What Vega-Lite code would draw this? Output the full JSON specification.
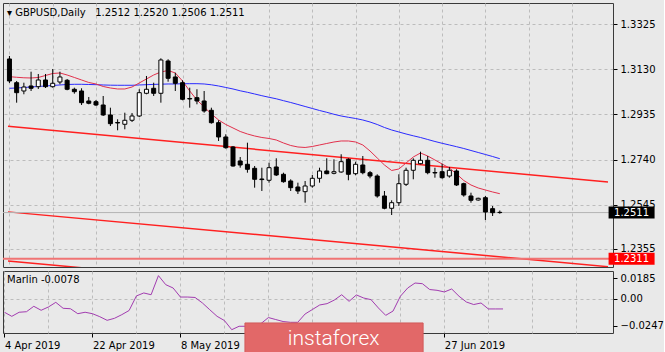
{
  "$schema": "https://vega.github.io/schema/vega-lite/v6.json",
  "background": "#e9e9e9",
  "padding": {"left": 2, "top": 2, "right": 0, "bottom": 0},
  "config": {
    "font": "DejaVu Sans",
    "view": {"stroke": "#3a3a3a", "strokeWidth": 1, "fill": "#e9e9e9"},
    "axis": {"labelFont": "DejaVu Sans", "labelFontSize": 10, "labelColor": "#000000", "tickColor": "#000000", "gridColor": "#bcbcbc", "gridDash": [3, 3], "domain": false}
  },
  "datasets": {
    "bars": [
      {"bar":0,"date":"2019-04-04","open":1.3175,"high":1.3188,"low":1.30712,"close":1.30799,"ma_fast":1.30985,"ma_slow":1.30483,"marlin":-0.0123},
      {"bar":1,"date":"2019-04-05","open":1.30725,"high":1.30799,"low":1.29861,"close":1.30293,"ma_fast":1.30959,"ma_slow":1.30496,"marlin":-0.016},
      {"bar":2,"date":"2019-04-08","open":1.30366,"high":1.30725,"low":1.30224,"close":1.30539,"ma_fast":1.30937,"ma_slow":1.30518,"marlin":-0.0123},
      {"bar":3,"date":"2019-04-09","open":1.30583,"high":1.31201,"low":1.30366,"close":1.30483,"ma_fast":1.30928,"ma_slow":1.30539,"marlin":-0.0118},
      {"bar":4,"date":"2019-04-10","open":1.30552,"high":1.31101,"low":1.30453,"close":1.30842,"ma_fast":1.3095,"ma_slow":1.30561,"marlin":-0.0069},
      {"bar":5,"date":"2019-04-11","open":1.30842,"high":1.31101,"low":1.30496,"close":1.30552,"ma_fast":1.31036,"ma_slow":1.30583,"marlin":-0.0105},
      {"bar":6,"date":"2019-04-12","open":1.30552,"high":1.31317,"low":1.30509,"close":1.30699,"ma_fast":1.31123,"ma_slow":1.30604,"marlin":-0.0075},
      {"bar":7,"date":"2019-04-15","open":1.30755,"high":1.31201,"low":1.30656,"close":1.30972,"ma_fast":1.31145,"ma_slow":1.30626,"marlin":-0.0033},
      {"bar":8,"date":"2019-04-16","open":1.30829,"high":1.30885,"low":1.30397,"close":1.3044,"ma_fast":1.31058,"ma_slow":1.30647,"marlin":-0.0087},
      {"bar":9,"date":"2019-04-17","open":1.3044,"high":1.30509,"low":1.3025,"close":1.30336,"ma_fast":1.3095,"ma_slow":1.30656,"marlin":-0.0091},
      {"bar":10,"date":"2019-04-18","open":1.30366,"high":1.30483,"low":1.29761,"close":1.29861,"ma_fast":1.30842,"ma_slow":1.30656,"marlin":-0.0136},
      {"bar":11,"date":"2019-04-19","open":1.29934,"high":1.30107,"low":1.29791,"close":1.29835,"ma_fast":1.30734,"ma_slow":1.30647,"marlin":-0.0123},
      {"bar":12,"date":"2019-04-22","open":1.29904,"high":1.29977,"low":1.29718,"close":1.29761,"ma_fast":1.30669,"ma_slow":1.30639,"marlin":-0.0136},
      {"bar":13,"date":"2019-04-23","open":1.29761,"high":1.3015,"low":1.29285,"close":1.29329,"ma_fast":1.30561,"ma_slow":1.30626,"marlin":-0.0163},
      {"bar":14,"date":"2019-04-24","open":1.29329,"high":1.29644,"low":1.28853,"close":1.28953,"ma_fast":1.30496,"ma_slow":1.30617,"marlin":-0.0196},
      {"bar":15,"date":"2019-04-25","open":1.29004,"high":1.29143,"low":1.28667,"close":1.28983,"ma_fast":1.30453,"ma_slow":1.30613,"marlin":-0.0178},
      {"bar":16,"date":"2019-04-26","open":1.28927,"high":1.29428,"low":1.2871,"close":1.291,"ma_fast":1.30453,"ma_slow":1.30613,"marlin":-0.0145},
      {"bar":17,"date":"2019-04-29","open":1.291,"high":1.29415,"low":1.29026,"close":1.29285,"ma_fast":1.30539,"ma_slow":1.30613,"marlin":-0.0107},
      {"bar":18,"date":"2019-04-30","open":1.29285,"high":1.3044,"low":1.29242,"close":1.30293,"ma_fast":1.30712,"ma_slow":1.30626,"marlin":0.0025},
      {"bar":19,"date":"2019-05-01","open":1.30267,"high":1.31015,"low":1.30224,"close":1.3044,"ma_fast":1.30885,"ma_slow":1.30639,"marlin":0.0052},
      {"bar":20,"date":"2019-05-02","open":1.30483,"high":1.30725,"low":1.3015,"close":1.30267,"ma_fast":1.31058,"ma_slow":1.30652,"marlin":0.0036},
      {"bar":21,"date":"2019-05-03","open":1.30267,"high":1.3178,"low":1.29861,"close":1.31707,"ma_fast":1.31188,"ma_slow":1.3066,"marlin":0.0209},
      {"bar":22,"date":"2019-05-06","open":1.31663,"high":1.31737,"low":1.30768,"close":1.30915,"ma_fast":1.31253,"ma_slow":1.30669,"marlin":0.0127},
      {"bar":23,"date":"2019-05-07","open":1.30972,"high":1.31158,"low":1.30366,"close":1.30699,"ma_fast":1.31145,"ma_slow":1.30669,"marlin":0.0097},
      {"bar":24,"date":"2019-05-08","open":1.30725,"high":1.30829,"low":1.29964,"close":1.30007,"ma_fast":1.30799,"ma_slow":1.30678,"marlin":0.0015},
      {"bar":25,"date":"2019-05-09","open":1.30042,"high":1.30509,"low":1.29644,"close":1.3002,"ma_fast":1.30366,"ma_slow":1.30682,"marlin":0.0015},
      {"bar":26,"date":"2019-05-10","open":1.30077,"high":1.3044,"low":1.29791,"close":1.29934,"ma_fast":1.29977,"ma_slow":1.30682,"marlin":0.0011},
      {"bar":27,"date":"2019-05-13","open":1.29934,"high":1.30366,"low":1.29428,"close":1.29502,"ma_fast":1.29675,"ma_slow":1.30669,"marlin":-0.0039},
      {"bar":28,"date":"2019-05-14","open":1.29532,"high":1.29644,"low":1.28953,"close":1.28996,"ma_fast":1.29372,"ma_slow":1.30634,"marlin":-0.01},
      {"bar":29,"date":"2019-05-15","open":1.28996,"high":1.291,"low":1.28205,"close":1.28378,"ma_fast":1.29113,"ma_slow":1.30583,"marlin":-0.016},
      {"bar":30,"date":"2019-05-16","open":1.28378,"high":1.28494,"low":1.27872,"close":1.27915,"ma_fast":1.28918,"ma_slow":1.30518,"marlin":-0.0198},
      {"bar":31,"date":"2019-05-17","open":1.27945,"high":1.27988,"low":1.27093,"close":1.27124,"ma_fast":1.28767,"ma_slow":1.30453,"marlin":-0.0281},
      {"bar":32,"date":"2019-05-20","open":1.2734,"high":1.27513,"low":1.2705,"close":1.27167,"ma_fast":1.28615,"ma_slow":1.30375,"marlin":-0.025},
      {"bar":33,"date":"2019-05-21","open":1.27197,"high":1.28131,"low":1.26834,"close":1.26981,"ma_fast":1.28507,"ma_slow":1.3031,"marlin":-0.025},
      {"bar":34,"date":"2019-05-22","open":1.27024,"high":1.27124,"low":1.26186,"close":1.26549,"ma_fast":1.28421,"ma_slow":1.30237,"marlin":-0.0239},
      {"bar":35,"date":"2019-05-23","open":1.26562,"high":1.2705,"low":1.26043,"close":1.26536,"ma_fast":1.28356,"ma_slow":1.30163,"marlin":-0.0225},
      {"bar":36,"date":"2019-05-24","open":1.26506,"high":1.27266,"low":1.26402,"close":1.2705,"ma_fast":1.28313,"ma_slow":1.30094,"marlin":-0.0171},
      {"bar":37,"date":"2019-05-27","open":1.27081,"high":1.27457,"low":1.26691,"close":1.26735,"ma_fast":1.28248,"ma_slow":1.30029,"marlin":-0.0189},
      {"bar":38,"date":"2019-05-28","open":1.26765,"high":1.26834,"low":1.26402,"close":1.26445,"ma_fast":1.28118,"ma_slow":1.29947,"marlin":-0.0207},
      {"bar":39,"date":"2019-05-29","open":1.26475,"high":1.26549,"low":1.26043,"close":1.26186,"ma_fast":1.2801,"ma_slow":1.29869,"marlin":-0.0214},
      {"bar":40,"date":"2019-05-30","open":1.26216,"high":1.26402,"low":1.25913,"close":1.26043,"ma_fast":1.27945,"ma_slow":1.29783,"marlin":-0.0214},
      {"bar":41,"date":"2019-05-31","open":1.26013,"high":1.26475,"low":1.25537,"close":1.26259,"ma_fast":1.27924,"ma_slow":1.29696,"marlin":-0.0139},
      {"bar":42,"date":"2019-06-03","open":1.26259,"high":1.26735,"low":1.26186,"close":1.26592,"ma_fast":1.27967,"ma_slow":1.2961,"marlin":-0.0098},
      {"bar":43,"date":"2019-06-04","open":1.26592,"high":1.2705,"low":1.26402,"close":1.26908,"ma_fast":1.28032,"ma_slow":1.29523,"marlin":-0.0057},
      {"bar":44,"date":"2019-06-05","open":1.26908,"high":1.27457,"low":1.26765,"close":1.26791,"ma_fast":1.28097,"ma_slow":1.29445,"marlin":-0.0045},
      {"bar":45,"date":"2019-06-06","open":1.26808,"high":1.27413,"low":1.26765,"close":1.26877,"ma_fast":1.28161,"ma_slow":1.29359,"marlin":-0.0012},
      {"bar":46,"date":"2019-06-07","open":1.26864,"high":1.2763,"low":1.26834,"close":1.2731,"ma_fast":1.28205,"ma_slow":1.29285,"marlin":0.0036},
      {"bar":47,"date":"2019-06-10","open":1.27413,"high":1.27457,"low":1.26506,"close":1.26765,"ma_fast":1.28205,"ma_slow":1.29229,"marlin":-0.0024},
      {"bar":48,"date":"2019-06-11","open":1.26791,"high":1.2731,"low":1.26722,"close":1.27197,"ma_fast":1.28161,"ma_slow":1.29177,"marlin":0.0034},
      {"bar":49,"date":"2019-06-12","open":1.27167,"high":1.27556,"low":1.26765,"close":1.26834,"ma_fast":1.28032,"ma_slow":1.29112,"marlin":0.0006},
      {"bar":50,"date":"2019-06-13","open":1.26834,"high":1.26908,"low":1.26592,"close":1.26691,"ma_fast":1.27772,"ma_slow":1.29026,"marlin":-0.0009},
      {"bar":51,"date":"2019-06-14","open":1.26691,"high":1.26765,"low":1.25753,"close":1.25827,"ma_fast":1.2747,"ma_slow":1.28918,"marlin":-0.0084},
      {"bar":52,"date":"2019-06-17","open":1.25827,"high":1.26043,"low":1.25252,"close":1.25295,"ma_fast":1.27167,"ma_slow":1.28788,"marlin":-0.0151},
      {"bar":53,"date":"2019-06-18","open":1.25295,"high":1.25641,"low":1.25005,"close":1.25537,"ma_fast":1.26929,"ma_slow":1.2868,"marlin":-0.0112},
      {"bar":54,"date":"2019-06-19","open":1.25537,"high":1.26765,"low":1.25394,"close":1.26359,"ma_fast":1.26994,"ma_slow":1.28594,"marlin":0.0022},
      {"bar":55,"date":"2019-06-20","open":1.26333,"high":1.2705,"low":1.26259,"close":1.26938,"ma_fast":1.27253,"ma_slow":1.28507,"marlin":0.0097},
      {"bar":56,"date":"2019-06-21","open":1.26938,"high":1.27457,"low":1.26549,"close":1.2737,"ma_fast":1.27513,"ma_slow":1.28429,"marlin":0.0142},
      {"bar":57,"date":"2019-06-24","open":1.27223,"high":1.27742,"low":1.27197,"close":1.2737,"ma_fast":1.27686,"ma_slow":1.28356,"marlin":0.0136},
      {"bar":58,"date":"2019-06-25","open":1.2737,"high":1.27556,"low":1.26765,"close":1.26834,"ma_fast":1.27556,"ma_slow":1.28269,"marlin":0.0083},
      {"bar":59,"date":"2019-06-26","open":1.26843,"high":1.2705,"low":1.26618,"close":1.26821,"ma_fast":1.27383,"ma_slow":1.28183,"marlin":0.0076},
      {"bar":60,"date":"2019-06-27","open":1.26877,"high":1.27223,"low":1.26575,"close":1.26618,"ma_fast":1.2721,"ma_slow":1.28105,"marlin":0.0061},
      {"bar":61,"date":"2019-06-28","open":1.26691,"high":1.27081,"low":1.26618,"close":1.26938,"ma_fast":1.27037,"ma_slow":1.28032,"marlin":0.0088},
      {"bar":62,"date":"2019-07-01","open":1.26908,"high":1.26981,"low":1.26259,"close":1.26302,"ma_fast":1.26778,"ma_slow":1.27958,"marlin":0.0022},
      {"bar":63,"date":"2019-07-02","open":1.26359,"high":1.26402,"low":1.25797,"close":1.2587,"ma_fast":1.26497,"ma_slow":1.2788,"marlin":-0.003},
      {"bar":64,"date":"2019-07-03","open":1.25827,"high":1.25969,"low":1.25537,"close":1.25641,"ma_fast":1.26302,"ma_slow":1.27794,"marlin":-0.0053},
      {"bar":65,"date":"2019-07-04","open":1.25654,"high":1.25753,"low":1.25624,"close":1.25727,"ma_fast":1.26173,"ma_slow":1.27707,"marlin":-0.0039},
      {"bar":66,"date":"2019-07-05","open":1.25753,"high":1.25827,"low":1.24789,"close":1.25135,"ma_fast":1.26086,"ma_slow":1.27621,"marlin":-0.0093},
      {"bar":67,"date":"2019-07-08","open":1.25278,"high":1.25394,"low":1.24962,"close":1.25105,"ma_fast":1.26,"ma_slow":1.27534,"marlin":-0.0093},
      {"bar":68,"date":"2019-07-09","open":1.2512,"high":1.252,"low":1.2506,"close":1.2511,"ma_fast":1.25926,"ma_slow":1.27439,"marlin":-0.0093}
    ],
    "levels": [
      {"kind": "bid", "level": 1.2511},
      {"kind": "support", "level": 1.2311}
    ],
    "trend": [
      {"line": "upper", "bar": -0.2, "price": 1.2884},
      {"line": "upper", "bar": 83, "price": 1.2643},
      {"line": "middle", "bar": -0.2, "price": 1.2514},
      {"line": "middle", "bar": 83, "price": 1.2277},
      {"line": "lower", "bar": -0.2, "price": 1.2302},
      {"line": "lower", "bar": 83, "price": 1.2061}
    ],
    "brand": [{"name": "instaforex"}]
  },
  "spacing": 2,
  "vconcat": [
    {
      "width": 610,
      "height": 264,
      "title": {"text": "▾ GBPUSD,Daily\u00a0\u00a0 1.2512 1.2520 1.2506 1.2511", "anchor": "start", "frame": "group", "offset": -15, "dx": 4, "font": "DejaVu Sans", "fontSize": 10, "fontWeight": "normal", "color": "#000000"},
      "layer": [
        {
          "data": {"name": "trend"},
          "mark": {"type": "line", "clip": true, "color": "#ff2020", "strokeWidth": 1.5},
          "encoding": {
            "x": {"field": "bar", "type": "quantitative", "scale": {"domain": [-0.2, 83], "nice": false, "zero": false},
                  "axis": {"values": [0,6,12,18,24,30,36,42,48,54,60,66,72,78], "tickCount": 30, "labels": false, "ticks": false, "grid": true, "title": null}},
            "y": {"field": "price", "type": "quantitative", "scale": {"domain": [1.22757, 1.3417], "nice": false, "zero": false},
                  "axis": {"orient": "right", "values": [1.3325, 1.313, 1.2935, 1.274, 1.2545, 1.2355], "tickCount": 20, "format": ".4f", "grid": true, "tickSize": 4, "labelPadding": 3, "labelOverlap": false, "title": null}},
            "detail": {"field": "line", "type": "nominal"}
          }
        },
        {
          "data": {"name": "levels"},
          "mark": {"type": "rule", "clip": true},
          "encoding": {
            "y": {"field": "level", "type": "quantitative", "axis": {"title": null}},
            "color": {"condition": {"test": "datum.kind == 'bid'", "value": "#b4b4b4"}, "value": "#f07474"},
            "strokeWidth": {"condition": {"test": "datum.kind == 'bid'", "value": 1}, "value": 2}
          }
        },
        {
          "data": {"name": "bars"},
          "mark": {"type": "line", "color": "#2b2bff", "strokeWidth": 1, "clip": true},
          "encoding": {
            "x": {"field": "bar", "type": "quantitative", "axis": {"title": null}},
            "y": {"field": "ma_slow", "type": "quantitative", "axis": {"title": null}}
          }
        },
        {
          "data": {"name": "bars"},
          "mark": {"type": "line", "color": "#e2304c", "strokeWidth": 1, "clip": true},
          "encoding": {
            "x": {"field": "bar", "type": "quantitative", "axis": {"title": null}},
            "y": {"field": "ma_fast", "type": "quantitative", "axis": {"title": null}}
          }
        },
        {
          "data": {"name": "bars"},
          "mark": {"type": "rule", "color": "#000000", "strokeWidth": 1, "clip": true},
          "encoding": {
            "x": {"field": "bar", "type": "quantitative", "axis": {"title": null}},
            "y": {"field": "low", "type": "quantitative", "axis": {"title": null}},
            "y2": {"field": "high"}
          }
        },
        {
          "data": {"name": "bars"},
          "mark": {"type": "bar", "size": 4, "stroke": "#000000", "strokeWidth": 1, "clip": true},
          "encoding": {
            "x": {"field": "bar", "type": "quantitative", "axis": {"title": null}},
            "y": {"field": "open", "type": "quantitative", "axis": {"title": null}},
            "y2": {"field": "close"},
            "fill": {"condition": {"test": "datum.close > datum.open", "value": "#ffffff"}, "value": "#000000"}
          }
        },
        {
          "data": {"name": "levels"},
          "mark": {"type": "tick", "orient": "horizontal", "size": 46, "thickness": 12, "opacity": 1},
          "encoding": {
            "x": {"datum": 86.27, "type": "quantitative", "axis": {"title": null}},
            "y": {"field": "level", "type": "quantitative", "axis": {"title": null}},
            "color": {"condition": {"test": "datum.kind == 'bid'", "value": "#000000"}, "value": "#ff0000"}
          }
        },
        {
          "data": {"name": "levels"},
          "mark": {"type": "text", "align": "center", "baseline": "middle", "fontSize": 10, "color": "#ffffff", "dy": 0.5},
          "encoding": {
            "x": {"datum": 86.27, "type": "quantitative", "axis": {"title": null}},
            "y": {"field": "level", "type": "quantitative", "axis": {"title": null}},
            "text": {"field": "level", "type": "quantitative", "format": ".4f"}
          }
        }
      ]
    },
    {
      "width": 610,
      "height": 62,
      "title": {"text": "Marlin -0.0078", "anchor": "start", "frame": "group", "offset": -14, "dx": 4, "font": "DejaVu Sans", "fontSize": 10, "fontWeight": "normal", "color": "#000000"},
      "layer": [
        {
          "data": {"name": "bars"},
          "mark": {"type": "line", "color": "#a23cb0", "strokeWidth": 1, "clip": true},
          "encoding": {
            "x": {"field": "bar", "type": "quantitative", "scale": {"domain": [-0.2, 83], "nice": false, "zero": false},
                  "axis": {"values": [0,6,12,18,24,30,36,42,48,54,60,66,72,78], "tickCount": 30, "grid": true, "title": null, "tickSize": 4,
                           "tickOpacity": {"condition": {"test": "datum.value == 0 || datum.value == 12 || datum.value == 24 || datum.value == 60", "value": 1}, "value": 0},
                           "labelExpr": "datum.value == 0 ? '4 Apr 2019' : datum.value == 12 ? '22 Apr 2019' : datum.value == 24 ? '8 May 2019' : datum.value == 60 ? '27 Jun 2019' : ''",
                           "labelAlign": "left", "labelBaseline": "top", "labelPadding": 3, "labelFlush": false, "labelOverlap": false, "labelBound": false}},
            "y": {"field": "marlin", "type": "quantitative", "scale": {"domain": [-0.0311, 0.0251], "nice": false, "zero": false},
                  "axis": {"orient": "right", "values": [0.0185, 0, -0.0247], "tickCount": 10, "title": null, "tickSize": 4, "labelPadding": 3, "labelOverlap": false,
                           "labelExpr": "abs(datum.value) < 0.0001 ? '0.00' : format(datum.value, '.4f')",
                           "grid": true, "gridOpacity": {"condition": {"test": "abs(datum.value) < 0.0001", "value": 1}, "value": 0}}}
          }
        },
        {
          "data": {"name": "brand"},
          "mark": {"type": "rect", "color": "#e26868", "stroke": "#d25a5a", "strokeWidth": 1},
          "encoding": {
            "x": {"datum": 32.8, "type": "quantitative", "axis": {"title": null}},
            "x2": {"datum": 57.1},
            "y": {"datum": -0.0220, "type": "quantitative", "axis": {"title": null}},
            "y2": {"datum": -0.0512}
          }
        },
        {
          "data": {"name": "brand"},
          "mark": {"type": "text", "font": "Roboto", "fontWeight": 300, "fontSize": 21, "color": "#ffffff", "align": "center", "baseline": "middle"},
          "encoding": {
            "x": {"datum": 44.9, "type": "quantitative", "axis": {"title": null}},
            "y": {"datum": -0.0368, "type": "quantitative", "axis": {"title": null}},
            "text": {"field": "name", "type": "nominal"}
          }
        }
      ]
    }
  ]
}
